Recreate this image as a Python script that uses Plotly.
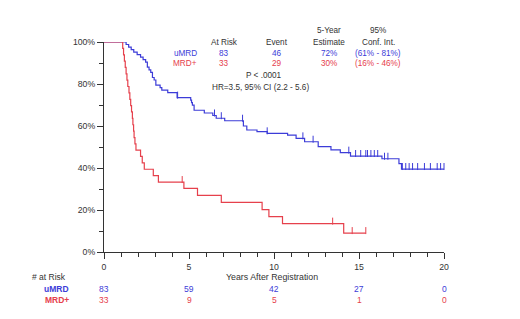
import plotly.graph_objects as go
import numpy as np

# ---------------- data ----------------
blue_times = [0, 1.30, 1.45, 1.60, 1.75, 1.95, 2.15, 2.30, 2.45, 2.55, 2.65, 2.75, 2.85, 2.95, 3.05,
              3.30, 3.40, 3.75, 4.30, 5.10, 5.15, 5.20, 5.30, 5.90, 6.40, 6.60, 7.10, 8.20, 8.40,
              9.00, 9.60, 10.80, 11.30, 11.80, 12.60, 13.35, 13.90, 14.50, 16.35, 17.35, 17.50]
blue_surv = [100, 98.8, 97.6, 96.4, 95.2, 94.0, 92.8, 91.6, 90.4, 88.0, 86.7, 85.5, 83.1, 81.9, 79.5,
             78.3, 77.1, 75.9, 73.5, 72.3, 71.1, 69.9, 67.5, 66.2, 65.0, 63.7, 62.5, 60.0, 58.1,
             57.3, 56.5, 55.7, 54.1, 52.5, 50.2, 48.6, 47.3, 45.7, 44.4, 42.1, 39.5]
blue_end = 20.0
blue_censor = [4.33, 6.5, 6.9, 8.15, 9.6, 11.7, 12.3, 14.4, 14.8, 15.1, 15.4, 15.5, 15.7, 15.9, 16.1,
               16.5, 16.7, 17.55, 17.75, 17.95, 18.15, 18.45, 18.85, 19.2, 19.6, 19.8, 20.0]

red_times = [0, 1.10, 1.15, 1.20, 1.25, 1.30, 1.35, 1.40, 1.47, 1.52, 1.57, 1.62, 1.67, 1.70, 1.74,
             1.77, 1.82, 1.88, 2.15, 2.25, 2.37, 2.90, 3.20, 4.70, 5.50, 6.90, 9.30, 9.70, 10.50, 14.10]
red_surv = [100, 97.0, 93.9, 90.9, 87.9, 84.8, 81.8, 78.8, 75.8, 72.7, 69.7, 66.7, 63.6, 60.6, 57.6,
            54.5, 51.5, 48.5, 45.5, 42.4, 39.4, 36.4, 33.3, 30.3, 27.0, 23.6, 20.2, 16.8, 13.5, 9.0]
red_end = 15.4
red_censor = [4.6, 13.45, 14.6, 15.4]

risk_times = [0, 5, 10, 15, 20]
risk_umrd = ["83", "59", "42", "27", "0"]
risk_mrd = ["33", "9", "5", "1", "0"]

header_cols = ["At Risk", "Event", "5-Year<br>Estimate", "95%<br>Conf. Int."]
umrd_row = ["83", "46", "72%", "(61% - 81%)"]
mrd_row = ["33", "29", "30%", "(16% - 46%)"]
p_text = "P < .0001"
hr_text = "HR=3.5, 95% CI (2.2 - 5.6)"

BLUE = "#3c3cd8"
RED = "#e6404c"
TXT = "#333333"
FONT = "Liberation Sans"


def surv_at(times, surv, t):
    idx = np.searchsorted(times, t, side="right") - 1
    return surv[idx]


fig = go.Figure()

for times, surv, end, cens, col, name in [
    (blue_times, blue_surv, blue_end, blue_censor, BLUE, "uMRD"),
    (red_times, red_surv, red_end, red_censor, RED, "MRD+"),
]:
    xs = list(times) + [end]
    ys = list(surv) + [surv[-1]]
    fig.add_trace(go.Scatter(x=xs, y=ys, mode="lines", line=dict(color=col, width=1.2, shape="hv"),
                             showlegend=False, hoverinfo="skip", name=name))
    cy = [surv_at(times, surv, t) + 1.2 for t in cens]
    fig.add_trace(go.Scatter(x=cens, y=cy, mode="markers", cliponaxis=False,
                             marker=dict(symbol="line-ns", size=5, line=dict(color=col, width=1)),
                             showlegend=False, hoverinfo="skip"))

# layout geometry (pixels)
L, R, T, B = 104, 76, 42, 67
W, H = 520, 319
PW, PH = W - L - R, H - T - B


def px(x):
    return (x - L) / PW


def py(y):
    return (H - B - y) / PH


ann = []


def text(x, y, s, color=TXT, size=8.2, xanchor="center", xref="paper"):
    ann.append(dict(x=x, y=py(y), xref=xref, yref="paper", text=s, showarrow=False,
                    xanchor=xanchor, yanchor="middle", font=dict(family=FONT, size=size, color=color)))


# header block
col_x = [224, 277, 329, 378]
for cx, h in zip(col_x, header_cols):
    if "<br>" in h:
        a, b = h.split("<br>")
        text(px(cx), 30.5, a)
        text(px(cx), 42, b)
    else:
        text(px(cx), 42, h)
text(px(185), 53, "uMRD", BLUE)
text(px(185), 64, "MRD+", RED)
for cx, v in zip(col_x, umrd_row):
    text(px(cx), 53, v, BLUE)
for cx, v in zip(col_x, mrd_row):
    text(px(cx), 64, v, RED)
text(px(264), 75, p_text)
text(px(260), 87, hr_text)

# risk table
text(px(68), 277, "# at Risk", xanchor="right", size=8.5)
text(px(71), 289, "<b>uMRD</b>", BLUE, xanchor="right", size=8.5)
text(px(71), 300, "<b>MRD+</b>", RED, xanchor="right", size=8.5)
for t, a, b in zip(risk_times, risk_umrd, risk_mrd):
    text(t, 289, a, BLUE, xref="x", size=8.5)
    text(t, 300, b, RED, xref="x", size=8.5)
text(px(272), 277, "Years After Registration", size=8.8)

fig.update_layout(
    width=W, height=H, margin=dict(l=L, r=R, t=T, b=B),
    paper_bgcolor="white", plot_bgcolor="white",
    font=dict(family=FONT, size=8.7, color=TXT),
    annotations=ann,
    xaxis=dict(range=[0, 20], showgrid=False, zeroline=False, showline=True, linecolor=TXT,
               linewidth=1.3, ticks="outside", tickvals=[0, 5, 10, 15, 20], ticklen=6, tickwidth=1.3,
               tickcolor=TXT, tickfont=dict(size=8.7, color=TXT),
               minor=dict(ticks="outside", dtick=1, ticklen=4, tickcolor=TXT, tickwidth=1.2)),
    yaxis=dict(range=[0, 100], showgrid=False, zeroline=False, showline=True, linecolor=TXT,
               linewidth=1.3, ticks="outside", tickvals=[0, 20, 40, 60, 80, 100],
               ticktext=["0%", "20%", "40%", "60%", "80%", "100%"], ticklen=6, tickwidth=1.3,
               tickcolor=TXT, tickfont=dict(size=8.7, color=TXT),
               minor=dict(ticks="outside", dtick=10, ticklen=4, tickcolor=TXT, tickwidth=1.2)),
)

fig.write_html("out.html", config={"displayModeBar": False},
               post_script="document.body.style.margin='0';")
